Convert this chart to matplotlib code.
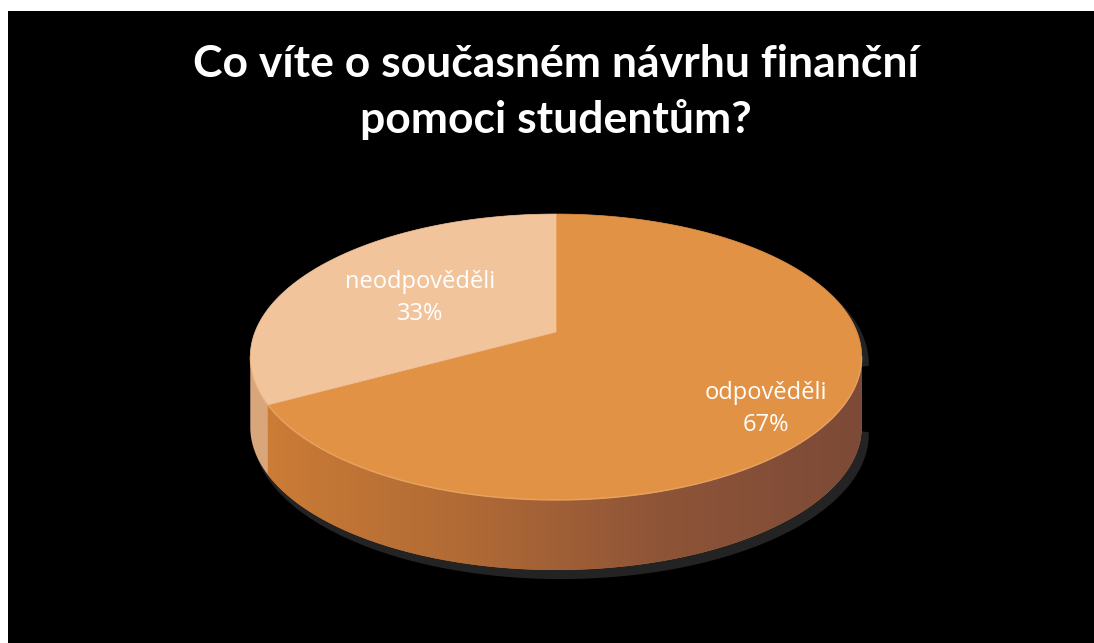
import numpy as np
import matplotlib
matplotlib.use("Agg")
import matplotlib.pyplot as plt
from matplotlib.patches import Polygon, Rectangle
from matplotlib.colors import LinearSegmentedColormap

# ---- data ----
categories = ['odpověděli', 'neodpověděli']
values = [67, 33]
pct_labels = ['67%', '33%']
title_lines = ['Co víte o současném návrhu finanční', 'pomoci studentům?']

top_colors = ['#E29245', '#F2C49C']
side_colors = ['#C77A37', '#D9A67C']

W, H = 1094, 643
fig = plt.figure(figsize=(W / 100, H / 100), dpi=100, facecolor='black')
ax = fig.add_axes([0, 0, 1, 1])
ax.set_xlim(0, W)
ax.set_ylim(H, 0)
ax.axis('off')

# white margins at the top and left of the black chart area
ax.add_patch(Rectangle((-20, -20), W + 40, 31, facecolor='white', edgecolor='none',
                       zorder=0, clip_on=False))
ax.add_patch(Rectangle((-20, -20), 28, H + 40, facecolor='white', edgecolor='none',
                       zorder=0, clip_on=False))

# 3D pie geometry (perspective projection of a tilted disc)
cx, cy = 556, 332
A, B, k = 301, 138.6, 0.175
depth = 70


def proj(phi, r=1.0, yoff=0.0):
    u = r * np.sin(phi)
    v = -r * np.cos(phi)
    d = 1 - k * v
    return cx + A * u / d, cy + B * v / d + yoff


total = float(sum(values))
bounds = np.cumsum([0] + values) / total * 2 * np.pi  # clockwise from 12 o'clock

vis_lo = np.pi / 2 + np.arcsin(k)
vis_hi = 3 * np.pi / 2 - np.arcsin(k)

# shadow
back = np.linspace(vis_hi, vis_lo + 2 * np.pi, 200)
front = np.linspace(vis_lo, vis_hi, 200)
sx1, sy1 = proj(back)
sx2, sy2 = proj(front[::-1], yoff=depth)
shadow_pts = np.column_stack([np.concatenate([sx1, sx2]), np.concatenate([sy1, sy2])])
ax.add_patch(Polygon(shadow_pts + np.array([5, 7]), closed=True, facecolor='#232323',
                     edgecolor='#232323', lw=3, zorder=1))

# sides
side_cmap = LinearSegmentedColormap.from_list('side', ['#CB7C36', '#B06A35', '#8E5438', '#7C4A37'])
for i in range(len(values)):
    a0, a1 = bounds[i], bounds[i + 1]
    lo, hi = max(a0, vis_lo), min(a1, vis_hi)
    if hi <= lo:
        continue
    ph = np.linspace(lo, hi, 200)
    x1, y1 = proj(ph)
    x2, y2 = proj(ph[::-1], yoff=depth)
    pts = np.column_stack([np.concatenate([x1, x2]), np.concatenate([y1, y2])])
    poly = Polygon(pts, closed=True, facecolor=side_colors[i], edgecolor='none', zorder=2)
    ax.add_patch(poly)
    if i == 0:
        grad = np.linspace(0, 1, 256)[None, :]
        xmin, xmax = x1.min(), x1.max()
        im = ax.imshow(grad, cmap=side_cmap, aspect='auto',
                       extent=[xmin, xmax, max(y2) + 2, min(y1) - 2], zorder=3,
                       interpolation='bilinear')
        im.set_clip_path(poly)
        ax.set_xlim(0, W)
        ax.set_ylim(H, 0)

# tops
for i in range(len(values)):
    ph = np.linspace(bounds[i], bounds[i + 1], 300)
    x, y = proj(ph)
    pts = np.column_stack([np.concatenate([[cx], x]), np.concatenate([[cy], y])])
    ax.add_patch(Polygon(pts, closed=True, facecolor=top_colors[i], edgecolor=top_colors[i],
                         lw=0.5, zorder=4))

# rim highlight on front edge
ph = np.linspace(vis_lo, vis_hi, 300)
hx, hy = proj(ph)
ax.plot(hx, hy, color='#F2B477', lw=1.0, alpha=0.6, zorder=5)

# labels
label_r = [0.75, 0.54]
label_dx = [2, -2]
label_dy = [26, 8]
line_gap = 32
for i in range(len(values)):
    mid = (bounds[i] + bounds[i + 1]) / 2
    lx, ly = proj(mid, r=label_r[i])
    lx, ly = lx + label_dx[i], ly + label_dy[i]
    ax.text(lx, ly - line_gap / 2, categories[i], color='white', ha='center', va='baseline',
            fontsize=17, family='Open Sans', zorder=6)
    ax.text(lx, ly + line_gap / 2, pct_labels[i], color='white', ha='center', va='baseline',
            fontsize=17, family='Open Sans', zorder=6)

title_baselines = [77, 133]
for line, yb in zip(title_lines, title_baselines):
    ax.text(556, yb, line, color='white', ha='center', va='baseline', fontsize=32,
            fontweight='bold', family='Lato', zorder=6)

fig.savefig('out.png', dpi=100, facecolor='black')
